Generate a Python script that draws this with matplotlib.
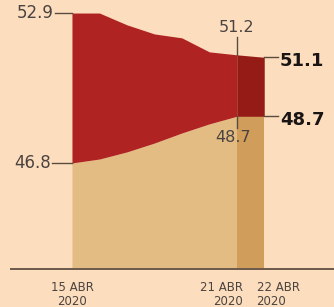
import matplotlib
matplotlib.use('Agg')
import matplotlib.pyplot as plt
import numpy as np

# daily values, 15 ABR .. 22 ABR 2020
DAYS = ['15 ABR', '16 ABR', '17 ABR', '18 ABR', '19 ABR', '20 ABR', '21 ABR', '22 ABR']
UPPER = [52.9, 52.9, 52.42, 52.05, 51.89, 51.32, 51.2, 51.1]
LOWER = [46.8, 46.96, 47.25, 47.61, 48.02, 48.39, 48.7, 48.7]
BASE = 42.5

BG = '#FCDEBE'
RED = '#B02323'
RED_DARK = '#951B16'
TAN = '#E3BC84'
TAN_DARK = '#D09D5A'
TXT = '#4b4340'
LINE = '#5a4a40'

x = np.arange(len(DAYS))
upper = np.array(UPPER)
lower = np.array(LOWER)

fig = plt.figure(figsize=(3.34, 3.07), dpi=100)
fig.patch.set_facecolor(BG)
ax = fig.add_axes([0, 0, 1, 1])
ax.set_facecolor(BG)
ax.set_xlim(-2.62, 9.54)
ax.set_ylim(40.94, 53.43)
ax.axis('off')

# main areas
ax.fill_between(x[:7], BASE, lower[:7], color=TAN, lw=0)
ax.fill_between(x[:7], lower[:7], upper[:7], color=RED, lw=0)
# last day highlighted
ax.fill_between(x[6:], BASE, lower[6:], color=TAN_DARK, lw=0)
ax.fill_between(x[6:], lower[6:], upper[6:], color=RED_DARK, lw=0)

# baseline
ax.plot([-2.27, 9.6], [BASE, BASE], color='#6b5a4c', lw=1.4, solid_capstyle='butt')

# start labels
ax.plot([-0.62, 0], [upper[0]] * 2, color=LINE, lw=1)
ax.plot([-0.72, 0], [lower[0]] * 2, color=LINE, lw=1)
ax.text(-0.68, upper[0], f'{UPPER[0]:.1f}', ha='right', va='center', fontsize=12, color=TXT)
ax.text(-0.78, lower[0], f'{LOWER[0]:.1f}', ha='right', va='center', fontsize=12, color=TXT)

# 21 ABR labels
ax.plot([6, 6], [51.92, upper[6]], color=LINE, lw=1)
ax.plot([6, 6], [lower[6], 48.22], color=LINE, lw=1)
ax.text(6, 52.33, f'{UPPER[6]:.1f}', ha='center', va='center', fontsize=11.5, color=TXT)
ax.text(5.86, 47.82, f'{LOWER[6]:.1f}', ha='center', va='center', fontsize=11.5, color=TXT)

# end labels
ax.plot([7, 7.5], [upper[7]] * 2, color=LINE, lw=1)
ax.plot([7, 7.5], [lower[7]] * 2, color=LINE, lw=1)
ax.text(7.57, 50.95, f'{UPPER[7]:.1f}', ha='left', va='center', fontsize=13, fontweight='bold', color='#1a1414')
ax.text(7.57, 48.55, f'{LOWER[7]:.1f}', ha='left', va='center', fontsize=13, fontweight='bold', color='#1a1414')

# date labels
date_kw = dict(va='top', fontsize=8.5, color=TXT, linespacing=1.05)
ax.text(0, 41.98, f'{DAYS[0]}\n2020', ha='center', multialignment='center', **date_kw)
ax.text(6.22, 41.98, f'{DAYS[6]}\n2020', ha='right', multialignment='right', **date_kw)
ax.text(6.72, 41.98, f'{DAYS[7]}\n2020', ha='left', multialignment='left', **date_kw)

fig.savefig('out.png', dpi=100, facecolor=BG)
